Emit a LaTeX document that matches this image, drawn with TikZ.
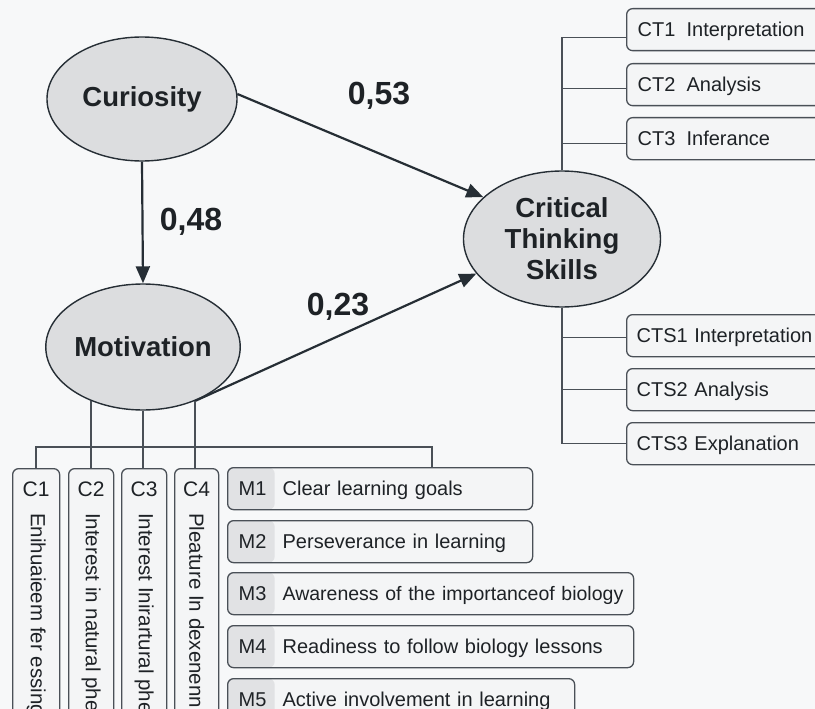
\documentclass[tikz,border=0pt]{standalone}
\usepackage{fontspec}
\setmainfont{Liberation Sans}
\usetikzlibrary{arrows.meta,calc,shapes.geometric}

\definecolor{bgcol}{HTML}{F7F8F9}
\definecolor{ellfill}{HTML}{DCDDDF}
\definecolor{inkdark}{HTML}{262E35}
\definecolor{linecol}{HTML}{4A5057}
\definecolor{boxfill}{HTML}{F4F5F6}
\definecolor{tabfill}{HTML}{E1E2E4}
\definecolor{txt}{HTML}{1E2226}

\begin{document}
\begin{tikzpicture}[x=1pt,y=-1pt,
  latent/.style={ellipse, draw=inkdark, line width=1.4pt, fill=ellfill, inner sep=0pt,
    font=\fontsize{27.5}{31}\selectfont\bfseries, text=txt, align=center},
  coef/.style={font=\fontsize{32}{36}\selectfont\bfseries, text=txt},
  effect/.style={draw=inkdark, line width=2.2pt, -{Triangle[length=17pt,width=14pt]}},
  link/.style={draw=linecol, line width=1.4pt},
  itembox/.style={draw=linecol, line width=1.3pt, fill=boxfill, rounded corners=6pt,
    anchor=north west, minimum height=42pt, inner xsep=11pt, inner ysep=0pt,
    text height=18pt, text depth=4pt,
    font=\fontsize{20}{24}\selectfont, text=txt, align=left},
  tabbed/.style={path picture={\fill[tabfill] (path picture bounding box.north west)
    rectangle ([xshift=47pt]path picture bounding box.south west);}},
  cbox/.style={draw=linecol, line width=1.3pt, fill=boxfill, rounded corners=6pt,
    anchor=north west, minimum height=290pt, inner sep=0pt},
  ctag/.style={font=\fontsize{21}{24}\selectfont, text=txt, inner sep=0pt},
  cdesc/.style={font=\fontsize{20.5}{24}\selectfont, text=txt, inner sep=0pt,
    rotate=-90, anchor=west}
]
\useasboundingbox (0,0) rectangle (815,709);
\fill[bgcol] (0,0) rectangle (815,709);
\clip (0,0) rectangle (815,709);

% latent constructs
\node[latent, minimum width=190pt, minimum height=124pt] (cur) at (142,99) {Curiosity};
\node[latent, minimum width=187pt, minimum height=126pt] (mot) at (143,347) {Motivation};
\node[latent, minimum width=197pt, minimum height=136pt] (cts) at (562,239) {Critical\\Thinking\\Skills};

% structural paths
\draw[effect] (cur.3) -- (cts.152);
\draw[effect] (cur.south) -- (mot.north);
\draw[effect] (mot.-46) -- (cts.202);

% path coefficients
\node[coef] (c53) at (379,96) {0,53};
\node[coef] (c48) at (191,222) {0,48};
\node[coef] (c23) at (338,307) {0,23};

% critical thinking indicators
\node[itembox, text width=192pt] (CT1) at (626,8) {\mbox{\makebox[49pt][l]{CT1}Interpretation}};
\node[itembox, text width=192pt] (CT2) at (626,63) {\mbox{\makebox[49pt][l]{CT2}Analysis}};
\node[itembox, text width=192pt] (CT3) at (626,117) {\mbox{\makebox[49pt][l]{CT3}Inferance}};
\node[itembox, text width=192pt, inner xsep=10pt] (CTS1) at (626,314) {\mbox{CTS1 Interpretation}};
\node[itembox, text width=192pt, inner xsep=10pt] (CTS2) at (626,368) {\mbox{CTS2 Analysis}};
\node[itembox, text width=192pt, inner xsep=10pt] (CTS3) at (626,422) {\mbox{CTS3 Explanation}};

\draw[link] (cts.north) |- ($(CT1.west)+(0,8)$);
\draw[link] (cts.north) |- ($(CT2.west)+(0,4)$);
\draw[link] (cts.north) |- ($(CT3.west)+(0,5)$);
\draw[link] (cts.south) |- ($(CTS1.west)+(0,2)$);
\draw[link] (cts.south) |- (CTS2.west);
\draw[link] (cts.south) |- (CTS3.west);

% motivation indicators
\node[itembox, tabbed, text width=283pt] (M1) at (227,467) {\mbox{\makebox[44pt][l]{M1}Clear learning goals}};
\node[itembox, tabbed, text width=283pt] (M2) at (227,520) {\mbox{\makebox[44pt][l]{M2}Perseverance in learning}};
\node[itembox, tabbed, text width=384pt] (M3) at (227,572) {\mbox{\makebox[44pt][l]{M3}\fontsize{19.5}{24}\selectfont Awareness of the importanceof biology}};
\node[itembox, tabbed, text width=384pt] (M4) at (227,625) {\mbox{\makebox[44pt][l]{M4}Readiness to follow biology lessons}};
\node[itembox, tabbed, text width=325pt] (M5) at (227,678) {\mbox{\makebox[44pt][l]{M5}Active involvement in learning}};

% curiosity indicators (vertical cards)
\node[cbox, minimum width=47pt] (C1) at (12,468) {};
\node[cbox, minimum width=45pt] (C2) at (68,468) {};
\node[cbox, minimum width=45pt] (C3) at (121,468) {};
\node[cbox, minimum width=44pt] (C4) at (174,468) {};
\node[ctag] (C1tag) at ($(C1.north)+(0,21)$) {C1};
\node[ctag] (C2tag) at ($(C2.north)+(0,21)$) {C2};
\node[ctag] (C3tag) at ($(C3.north)+(0,21)$) {C3};
\node[ctag] (C4tag) at ($(C4.north)+(0,21)$) {C4};
\node[cdesc] (C1desc) at ($(C1.north)+(0,45)$) {Enihuaieem fer essing};
\node[cdesc] (C2desc) at ($(C2.north)+(0,45)$) {Interest in natural phe};
\node[cdesc] (C3desc) at ($(C3.north)+(0,45)$) {Interest Inirartural phe};
\node[cdesc] (C4desc) at ($(C4.north)+(0,45)$) {Pleature In dexenenn};

% indicator bus below motivation
\coordinate (bustap) at (432,447);
\draw[link] (C1.north) |- (bustap) -- (bustap |- M1.north);
\draw[link] (mot.226) -- (mot.226 |- C2.north);
\draw[link] (mot.south) -- (mot.south |- C3.north);
\draw[link] (mot.-46) -- (mot.-46 |- C4.north);
\end{tikzpicture}
\end{document}
